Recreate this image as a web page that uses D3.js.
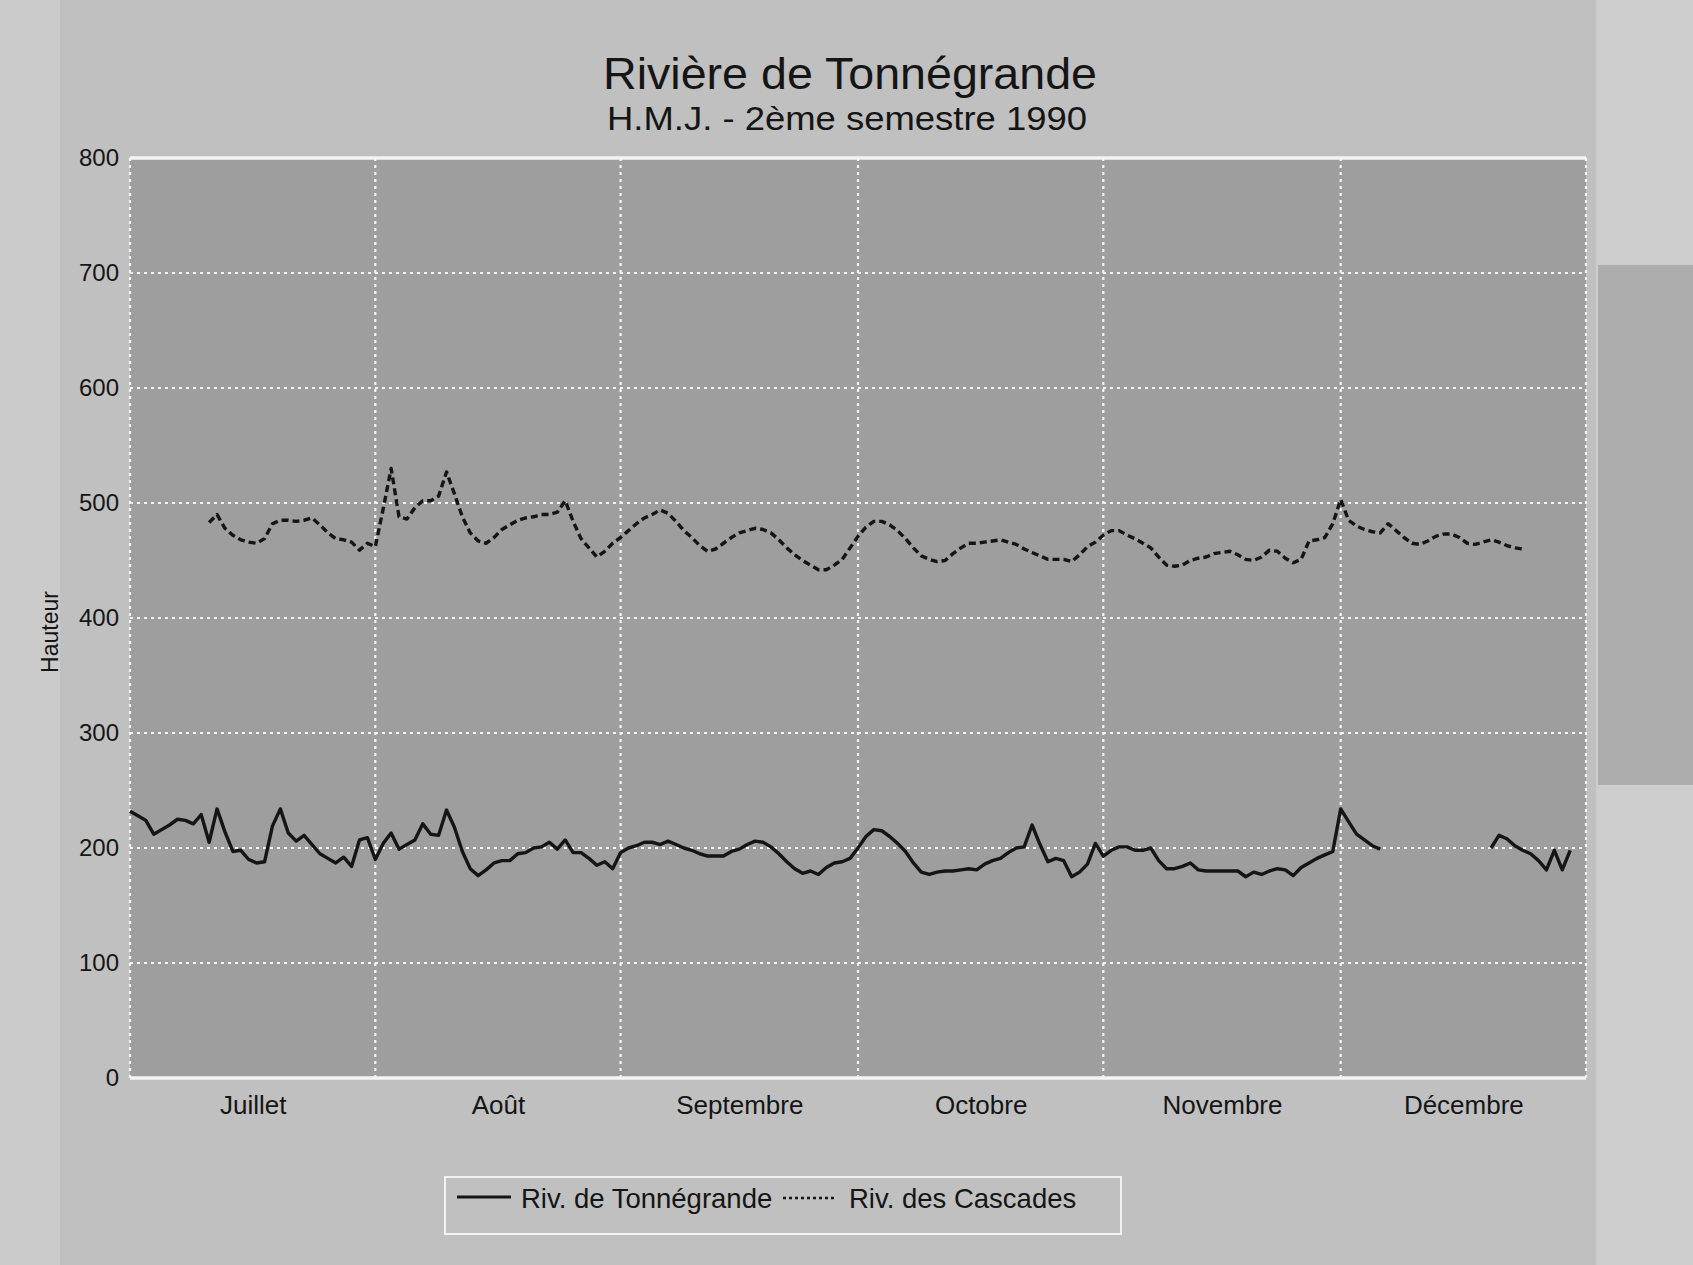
<!DOCTYPE html>
<html lang="fr">
<head>
<meta charset="utf-8">
<title>Rivière de Tonnégrande</title>
<script src="https://cdn.jsdelivr.net/npm/d3@7"></script>
<style>
  html, body { margin: 0; padding: 0; background: #c2c2c2; }
  svg { display: block; }
  text { font-family: "Liberation Sans", Arial, Helvetica, sans-serif; fill: #151515; }
</style>
</head>
<body>
<svg id="chart" width="1693" height="1265"></svg>
<script>
// Mois du 2ème semestre (étiquettes de l'axe X)
const months = ["Juillet", "Août", "Septembre", "Octobre", "Novembre", "Décembre"];
// Graduations de l'axe Y
const yTicks = [0, 100, 200, 300, 400, 500, 600, 700, 800];
// Premier jour de la série (index 0 = 1er juillet 1990)
const startDate = new Date(Date.UTC(1990, 6, 1));
const endDate = new Date(Date.UTC(1991, 0, 1));

// Hauteur moyenne journalière - Riv. de Tonnégrande (null = pas de mesure)
const tonnegrande = [
  232, 228, 224, 212, 216, 220, 225, 224, 221, 229,
  205, 234, 214, 197, 198, 190, 187, 188, 219, 234,
  213, 206, 211, 203, 195, 191, 187, 192, 184, 207,
  209, 190, 204, 213, 199, 203, 207, 221, 212, 211,
  233, 218, 197, 182, 176, 181, 187, 189, 189, 195,
  196, 200, 201, 205, 199, 207, 196, 196, 191, 185,
  188, 182, 196, 200, 202, 205, 205, 203, 206, 203,
  200, 198, 195, 193, 193, 193, 197, 199, 203, 206,
  205, 201, 195, 188, 182, 178, 180, 177, 183, 187,
  188, 191, 200, 210, 216, 215, 210, 204, 197, 187,
  179, 177, 179, 180, 180, 181, 182, 181, 186, 189,
  191, 196, 200, 201, 220, 203, 188, 191, 189, 175,
  179, 186, 204, 193, 198, 201, 201, 198, 198, 200,
  189, 182, 182, 184, 187, 181, 180, 180, 180, 180,
  180, 175, 179, 177, 180, 182, 181, 176, 183, 187,
  191, 194, 197, 234, 223, 212, 207, 202, 199,
  null, null, null, null, null, null, null, null, null, null, null, null, null,
  200, 211, 208, 202, 198, 195, 189, 181, 198, 181, 198
];

// Hauteur moyenne journalière - Riv. des Cascades
const cascades = [
  null, null, null, null, null, null, null, null, null, null,
  483, 490, 478, 472, 468, 466, 465, 469, 482, 485,
  485, 484, 485, 487, 481, 474, 469, 468, 466, 459,
  465, 462, 495, 530, 488, 486, 496, 502, 502, 506,
  527, 508, 488, 474, 467, 465, 470, 477, 481, 485,
  487, 488, 490, 490, 492, 502, 484, 469, 461, 453,
  458, 465, 470, 476, 482, 487, 490, 494, 491, 484,
  476, 470, 463, 458, 460, 465, 470, 474, 476, 478,
  477, 474, 468, 461, 455, 450, 446, 442, 442, 446,
  451, 461, 471, 479, 484, 484, 481, 476, 469, 461,
  454, 451, 449, 450, 456, 461, 465, 465, 466, 467,
  468, 466, 464, 460, 457, 454, 451, 451, 451, 449,
  455, 462, 466, 472, 476, 476, 472, 469, 465, 461,
  453, 446, 445, 446, 450, 452, 453, 456, 457, 458,
  455, 451, 450, 453, 459, 458, 452, 448, 451, 467,
  468, 470, 482, 503, 485, 480, 477, 475, 474, 482,
  476, 470, 465, 464, 467, 471, 473, 473, 470, 465,
  464, 466, 468, 466, 463, 461, 460,
  null, null, null, null, null, null
];

const seriesNames = ["Riv. de Tonnégrande", "Riv. des Cascades"];

// ---- Mise en page ----
const W = 1693, H = 1265;
const plot = { left: 130, right: 1586, top: 158, bottom: 1078 };
const ink = "#151515";

const svg = d3.select("#chart");

// Fond du papier
svg.append("rect").attr("width", W).attr("height", H).attr("fill", "#c0c0c0");
svg.append("rect").attr("x", 0).attr("y", 0).attr("width", 60).attr("height", H)
  .attr("fill", "#cbcbcb");
svg.append("rect").attr("x", 1596).attr("y", 0).attr("width", W - 1596).attr("height", H)
  .attr("fill", "#cdcdcd");
svg.append("rect").attr("x", 1598).attr("y", 265).attr("width", W - 1598).attr("height", 520)
  .attr("fill", "#adadad");

// Zone de tracé
svg.append("rect")
  .attr("x", plot.left).attr("y", plot.top)
  .attr("width", plot.right - plot.left).attr("height", plot.bottom - plot.top)
  .attr("fill", "#9e9e9e");

const x = d3.scaleUtc().domain([startDate, endDate]).range([plot.left, plot.right]);
const y = d3.scaleLinear().domain([0, 800]).range([plot.bottom, plot.top]);
const dayDate = i => d3.utcDay.offset(startDate, i);

// Quadrillage horizontal (pointillés blancs), bords haut et bas pleins
svg.append("g").selectAll("line")
  .data(yTicks)
  .join("line")
  .attr("x1", plot.left).attr("x2", plot.right)
  .attr("y1", d => y(d)).attr("y2", d => y(d))
  .attr("stroke", "#f4f4f4")
  .attr("stroke-width", d => (d === 0 || d === 800) ? 3.5 : 2.2)
  .attr("stroke-dasharray", d => (d === 0 || d === 800) ? null : "3,4");

// Quadrillage vertical aux changements de mois
const monthStarts = d3.utcMonth.range(startDate, d3.utcDay.offset(endDate, 1));
svg.append("g").selectAll("line")
  .data(monthStarts)
  .join("line")
  .attr("x1", d => x(d)).attr("x2", d => x(d))
  .attr("y1", plot.top).attr("y2", plot.bottom)
  .attr("stroke", "#f4f4f4")
  .attr("stroke-width", 2.2)
  .attr("stroke-dasharray", "3,4");

// Axe Y
const yAxis = d3.axisLeft(y).tickValues(yTicks).tickSize(0).tickPadding(0);
const gy = svg.append("g").attr("transform", `translate(${plot.left - 11},0)`).call(yAxis);
gy.select(".domain").remove();
gy.selectAll("text")
  .attr("font-size", 24)
  .attr("fill", ink)
  .attr("font-family", "Liberation Sans, Arial, sans-serif");

// Axe X : noms des mois au milieu de chaque mois
const monthMids = d3.range(6).map(m => {
  const a = d3.utcMonth.offset(startDate, m), b = d3.utcMonth.offset(startDate, m + 1);
  return new Date((+a + +b) / 2);
});
const xAxis = d3.axisBottom(x).tickValues(monthMids).tickSize(0).tickPadding(0)
  .tickFormat((d, i) => months[i]);
const gx = svg.append("g").attr("transform", `translate(0,${plot.bottom + 18})`).call(xAxis);
gx.select(".domain").remove();
gx.selectAll("text")
  .attr("font-size", 26)
  .attr("fill", ink)
  .attr("dy", "0.71em")
  .attr("font-family", "Liberation Sans, Arial, sans-serif");

// Titre de l'axe Y
svg.append("text")
  .attr("transform", "translate(58,632) rotate(-90)")
  .attr("text-anchor", "middle")
  .attr("font-size", 23)
  .text("Hauteur");

// Titre
svg.append("text")
  .attr("x", 850).attr("y", 89)
  .attr("text-anchor", "middle")
  .attr("font-size", 44)
  .attr("textLength", 494).attr("lengthAdjust", "spacingAndGlyphs")
  .text("Rivière de Tonnégrande");
svg.append("text")
  .attr("x", 847).attr("y", 130)
  .attr("text-anchor", "middle")
  .attr("font-size", 33)
  .attr("textLength", 480).attr("lengthAdjust", "spacingAndGlyphs")
  .text("H.M.J. - 2ème semestre 1990");

// Courbes
const line = d3.line()
  .defined(v => v != null)
  .x((v, i) => x(dayDate(i)))
  .y(v => y(v));

svg.append("path")
  .datum(cascades)
  .attr("d", line)
  .attr("fill", "none")
  .attr("stroke", ink)
  .attr("stroke-width", 3.4)
  .attr("stroke-linejoin", "round")
  .attr("stroke-dasharray", "7,4");

svg.append("path")
  .datum(tonnegrande)
  .attr("d", line)
  .attr("fill", "none")
  .attr("stroke", ink)
  .attr("stroke-width", 3.4)
  .attr("stroke-linejoin", "round");

// Légende
const legend = svg.append("g");
legend.append("rect")
  .attr("x", 445).attr("y", 1177).attr("width", 676).attr("height", 57)
  .attr("fill", "none").attr("stroke", "#f2f2f2").attr("stroke-width", 2);
legend.append("line")
  .attr("x1", 457).attr("x2", 511).attr("y1", 1197).attr("y2", 1197)
  .attr("stroke", ink).attr("stroke-width", 3);
legend.append("text")
  .attr("x", 521).attr("y", 1208).attr("font-size", 27.5)
  .text(seriesNames[0]);
legend.append("line")
  .attr("x1", 783).attr("x2", 835).attr("y1", 1198).attr("y2", 1198)
  .attr("stroke", ink).attr("stroke-width", 2.5).attr("stroke-dasharray", "3,3");
legend.append("text")
  .attr("x", 849).attr("y", 1208).attr("font-size", 27.5)
  .text(seriesNames[1]);
</script>
</body>
</html>
